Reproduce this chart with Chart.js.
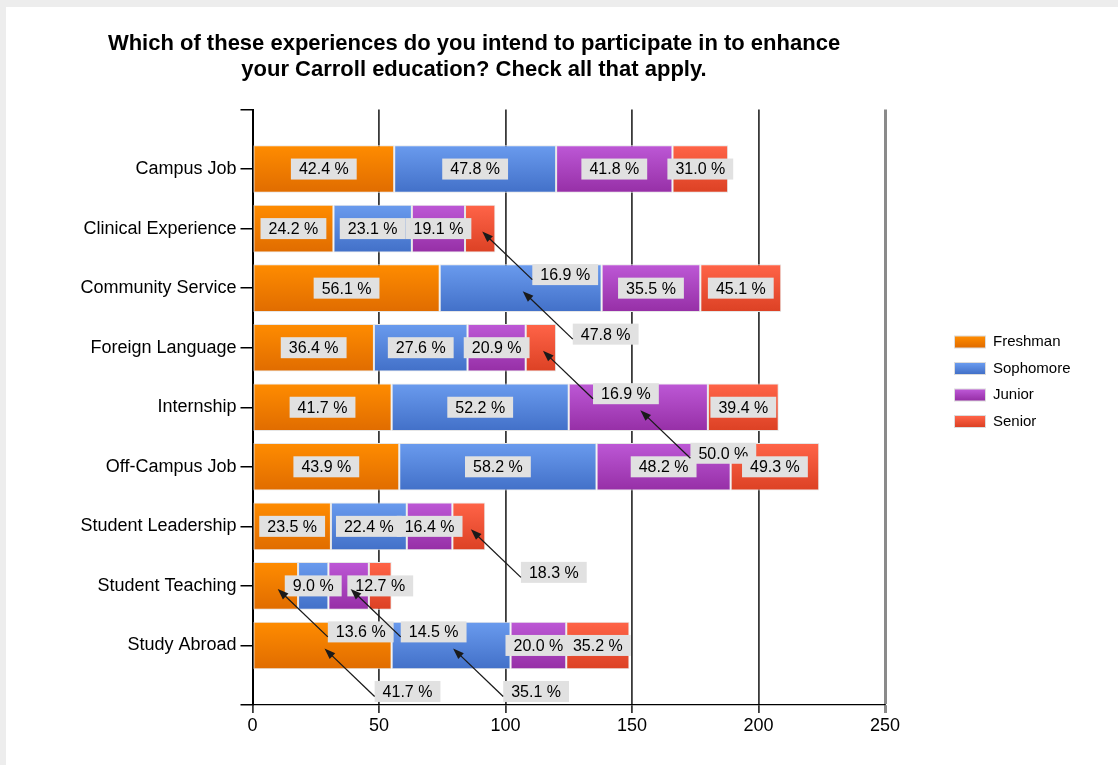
<!DOCTYPE html>
<html lang="en">
<head>
<meta charset="UTF-8">
<title>Carroll education experiences</title>
<script src="https://cdn.jsdelivr.net/npm/chart.js@4.4.0/dist/chart.umd.min.js"></script>
<style>
    body { margin: 0; background: #fff; }
    .frame {
        width: 1118px;
        height: 765px;
        box-sizing: border-box;
        border-left: 6px solid #ededed;
        border-top: 7px solid #ededed;
        background: #fff;
    }
    .chart-box { position: relative; width: 1112px; height: 758px; }
</style>
</head>
<body>
<div class="frame">
    <div class="chart-box"><canvas id="chart"></canvas></div>
</div>
<script>
    const FONT = '"Liberation Sans", Arial, sans-serif';

    const titleLines = [
        'Which of these experiences do you intend to participate in to enhance',
        'your Carroll education? Check all that apply.'
    ];

    const categories = ['Campus Job', 'Clinical Experience', 'Community Service', 'Foreign Language',
        'Internship', 'Off-Campus Job', 'Student Leadership', 'Student Teaching', 'Study Abroad'];

    // respondent counts (bar lengths)
    const freshman  = [56, 32, 74, 48, 55, 58, 31, 18, 55];
    const sophomore = [64, 31, 64, 37, 70, 78, 30, 12, 47];
    const junior    = [46, 21, 39, 23, 55, 53, 18, 16, 22];
    const senior    = [22, 12, 32, 12, 28, 35, 13, 9, 25];

    // percent labels shown on the segments
    const freshmanPct  = [42.4, 24.2, 56.1, 36.4, 41.7, 43.9, 23.5, 13.6, 41.7];
    const sophomorePct = [47.8, 23.1, 47.8, 27.6, 52.2, 58.2, 22.4, 9.0, 35.1];
    const juniorPct    = [41.8, 19.1, 35.5, 20.9, 50.0, 48.2, 16.4, 14.5, 20.0];
    const seniorPct    = [31.0, 16.9, 45.1, 16.9, 39.4, 49.3, 18.3, 12.7, 35.2];

    const xTicks = [0, 50, 100, 150, 200, 250];

    // labels too small for their segment: [series, category]
    const callouts = [[3, 1], [1, 2], [3, 3], [2, 4], [3, 6], [0, 7], [2, 7], [0, 8], [1, 8]];
    const calloutShift = { dx: 85, dy: 46 };

    const seriesColors = [
        ['#ff8c00', '#e06c00'],
        ['#6a9bee', '#4270c8'],
        ['#bd58d6', '#962fa6'],
        ['#ff6448', '#dc4124']
    ];

    // pad with an empty slot at top and bottom so the axis has room like the original
    const pad = arr => [null, ...arr, null];

    function gradientFor(colors) {
        return function (ctx) {
            const chart = ctx.chart;
            const y = chart.scales && chart.scales.y;
            if (!y || ctx.type !== 'data') return colors[0];
            const step = y.getPixelForValue(1) - y.getPixelForValue(0);
            const cy = y.getPixelForValue(ctx.dataIndex);
            if (!isFinite(step) || !isFinite(cy)) return colors[0];
            const g = chart.ctx.createLinearGradient(0, cy - step * 0.4, 0, cy + step * 0.4);
            g.addColorStop(0, colors[0]);
            g.addColorStop(1, colors[1]);
            return g;
        };
    }

    function makeDataset(label, values, pct, idx) {
        return {
            label: label,
            data: pad(values),
            pct: pad(pct),
            backgroundColor: gradientFor(seriesColors[idx]),
            borderColor: '#e6e6e6',
            borderWidth: 1,
            borderSkipped: false,
            barPercentage: 0.8,
            categoryPercentage: 1.0
        };
    }

    function drawArrow(c, x1, y1, x2, y2) {
        const ang = Math.atan2(y2 - y1, x2 - x1);
        c.save();
        c.strokeStyle = '#1a1a1a';
        c.fillStyle = '#1a1a1a';
        c.lineWidth = 1.3;
        c.beginPath();
        c.moveTo(x1, y1);
        c.lineTo(x2 - Math.cos(ang) * 6, y2 - Math.sin(ang) * 6);
        c.stroke();
        c.beginPath();
        c.moveTo(x2, y2);
        c.lineTo(x2 - Math.cos(ang) * 11 + Math.sin(ang) * 4, y2 - Math.sin(ang) * 11 - Math.cos(ang) * 4);
        c.lineTo(x2 - Math.cos(ang) * 11 - Math.sin(ang) * 4, y2 - Math.sin(ang) * 11 + Math.cos(ang) * 4);
        c.closePath();
        c.fill();
        c.restore();
    }

    const decorPlugin = {
        id: 'decor',
        afterDraw(chart) {
            const c = chart.ctx;
            const area = chart.chartArea;

            // title
            c.save();
            c.fillStyle = '#000';
            c.font = 'bold 22px ' + FONT;
            c.textAlign = 'center';
            c.textBaseline = 'middle';
            c.fillText(titleLines[0], 468, 37);
            c.fillText(titleLines[1], 468, 63);
            c.restore();

            // segment labels
            const arrows = [];
            c.save();
            c.font = '16px ' + FONT;
            c.textAlign = 'center';
            c.textBaseline = 'middle';
            chart.data.datasets.forEach((ds, i) => {
                const meta = chart.getDatasetMeta(i);
                meta.data.forEach((bar, j) => {
                    if (ds.data[j] == null) return;
                    const p = bar.getProps(['x', 'base', 'y'], true);
                    const sx = (p.x + p.base) / 2;
                    const sy = p.y;
                    const moved = callouts.some(o => o[0] === i && o[1] === j - 1);
                    const cx = moved ? sx + calloutShift.dx : sx;
                    const cy = moved ? sy + calloutShift.dy : sy;
                    const text = ds.pct[j].toFixed(1) + ' %';
                    const w = c.measureText(text).width + 16;
                    const h = 21;
                    c.fillStyle = '#e1e1e1';
                    c.fillRect(cx - w / 2, cy - h / 2, w, h);
                    c.fillStyle = '#000';
                    c.fillText(text, cx, cy + 1);
                    if (moved) arrows.push([cx - w / 2, cy + 5, sx + 2, sy + 3]);
                });
            });
            c.restore();
            arrows.forEach(a => drawArrow(c, a[0], a[1], a[2], a[3]));

            // legend
            c.save();
            c.font = '15px ' + FONT;
            c.textBaseline = 'middle';
            chart.data.datasets.forEach((ds, i) => {
                const bx = area.right + 70;
                const by = 335 + i * 26.5;
                const g = c.createLinearGradient(0, by - 5.5, 0, by + 5.5);
                g.addColorStop(0, seriesColors[i][0]);
                g.addColorStop(1, seriesColors[i][1]);
                c.fillStyle = '#dcdcdc';
                c.fillRect(bx - 1, by - 6.5, 32, 13);
                c.fillStyle = g;
                c.fillRect(bx, by - 5.5, 30, 11);
                c.fillStyle = '#000';
                c.fillText(ds.label, bx + 38, by);
            });
            c.restore();
        }
    };

    new Chart(document.getElementById('chart'), {
        type: 'bar',
        data: {
            labels: pad(categories).map(v => v || ''),
            datasets: [
                makeDataset('Freshman', freshman, freshmanPct, 0),
                makeDataset('Sophomore', sophomore, sophomorePct, 1),
                makeDataset('Junior', junior, juniorPct, 2),
                makeDataset('Senior', senior, seniorPct, 3)
            ]
        },
        options: {
            indexAxis: 'y',
            responsive: true,
            maintainAspectRatio: false,
            animation: false,
            layout: { padding: { top: 102.5, right: 233, left: 0, bottom: 0 } },
            plugins: {
                legend: { display: false },
                title: { display: false },
                tooltip: { enabled: false }
            },
            scales: {
                x: {
                    stacked: true,
                    min: 0,
                    max: 250,
                    afterBuildTicks: s => { s.ticks = xTicks.map(v => ({ value: v })); },
                    afterFit: s => { s.height = 60; },
                    ticks: {
                        color: '#000',
                        font: { family: FONT, size: 18 },
                        padding: 2,
                        maxRotation: 0
                    },
                    grid: {
                        color: ctx => (ctx.tick && ctx.tick.value === 250) ? '#8a8a8a' : '#3a3a3a',
                        lineWidth: ctx => (ctx.tick && ctx.tick.value === 250) ? 3 : 1.8,
                        tickLength: 8
                    },
                    border: { color: '#000', width: 1.2 }
                },
                y: {
                    stacked: true,
                    offset: false,
                    afterFit: s => { s.width = 246.5; },
                    ticks: {
                        color: '#000',
                        font: { family: FONT, size: 18 },
                        padding: 4,
                        autoSkip: false
                    },
                    grid: {
                        offset: false,
                        drawOnChartArea: false,
                        color: '#000',
                        lineWidth: 1.5,
                        tickLength: 12
                    },
                    border: { color: '#000', width: 2 }
                }
            }
        },
        plugins: [decorPlugin]
    });
</script>
</body>
</html>
